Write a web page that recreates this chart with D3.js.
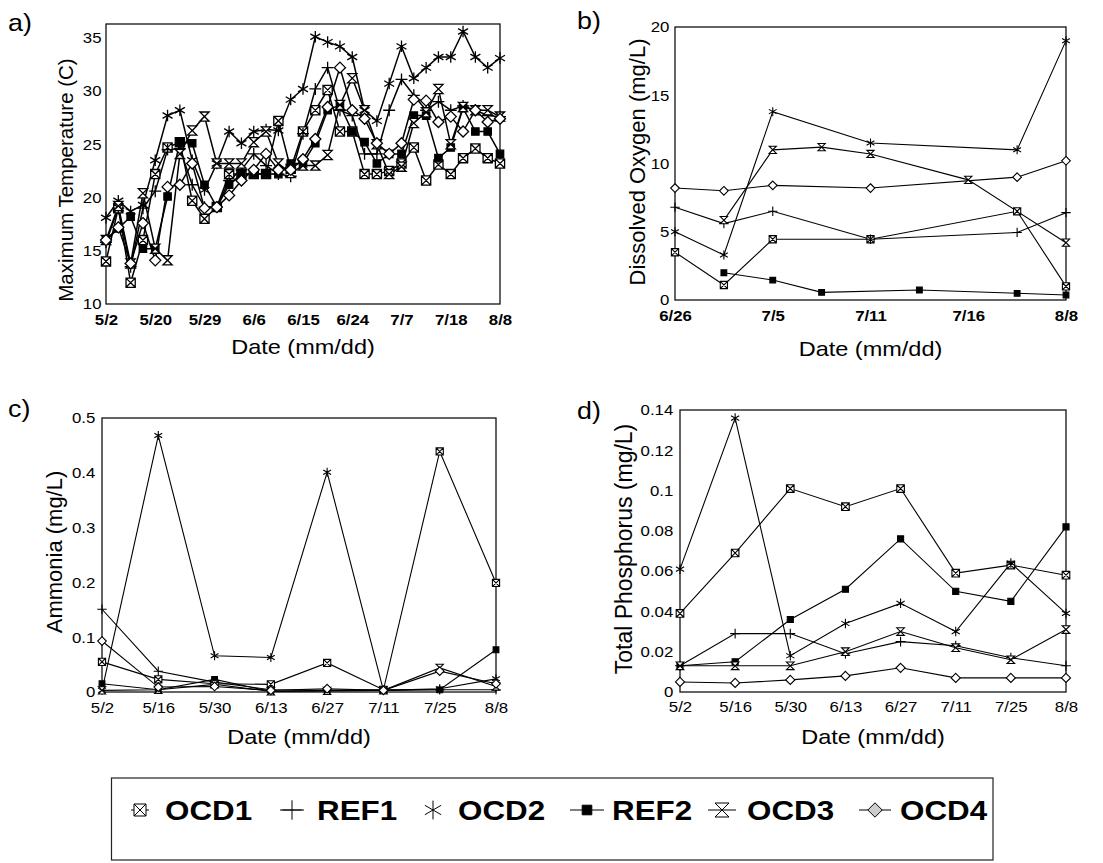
<!DOCTYPE html>
<html>
<head>
<meta charset="utf-8">
<script src="https://cdn.jsdelivr.net/npm/d3@7"></script>
<style>
  body { margin: 0; background: #fff; }
  svg { display: block; }
</style>
</head>
<body>
<svg id="fig" width="1103" height="863"></svg>
<script>
// ---- data ----
var seriesNames = ['OCD1', 'REF1', 'OCD2', 'REF2', 'OCD3', 'OCD4'];

// a) maximum temperature (C), 33 sampling dates
var aTickLabels = ['5/2', '5/20', '5/29', '6/6', '6/15', '6/24', '7/7', '7/18', '8/8'];
var aOCD1 = [14, 19, 12, 16, 22.2, 24.7, 25.2, 19.7, 18, 19.1, 22.2, 22.2, 22.2, 22.2, 27.2, 22.7, 26.2,
             28.2, 30.1, 26.2, 26.2, 22.2, 22.2, 22.5, 23.2, 24.7, 21.6, 23.1, 22.2, 23.7, 24.6, 23.7, 23.2];
var aREF1 = [15.8, 19, 13.5, 19, 20.6, 24.5, 24.6, 21.2, 19.1, 19.1, 21.6, 22.6, 24.1, 23, 22.2, 22, 26,
             30.2, 32.2, 28.2, 27.7, 24.1, 24.1, 28.2, 31.1, 29.6, 28.2, 29, 28.2, 28.6, 28.2, 27.7, 27.6];
var aOCD2 = [18.1, 19.7, 18.7, 19.3, 23.5, 27.7, 28.2, 23.5, 20.7, 23.2, 26.2, 25.1, 26.2, 26.4, 26.3, 29.2, 30.2,
             35.1, 34.6, 34.2, 33.2, 28.2, 27.2, 30.7, 34.2, 31.2, 32.2, 33.2, 33.2, 35.6, 33.2, 32.2, 33.1];
var aREF2 = [16, 17.1, 18.2, 15.2, 15.2, 20.1, 25.2, 25.1, 21.2, 19.1, 21.2, 22.2, 22.2, 22.2, 22.2, 23.2, 23.2,
             25.1, 28.2, 28.7, 26.2, 25.2, 23.2, 24.1, 24.1, 27.7, 27.7, 23.7, 24.7, 28.4, 26.2, 26.2, 24.1];
var aOCD3 = [16, 19.2, 13.8, 20.4, 15.2, 14.1, 24.1, 26.3, 27.6, 23.2, 23.2, 23.2, 25.2, 26.2, 23.2, 22.3, 23,
             23, 24, 28.7, 31.2, 28.2, 25, 22.2, 22.9, 27, 28, 30.2, 25, 28.5, 28.2, 28.2, 27.6];
var aOCD4 = [16, 17.2, 13.8, 17.6, 14.1, 21, 21.2, 23.2, 19, 19.1, 20.2, 21.6, 22.6, 24.1, 22.6, 22.6, 23.6,
             25.5, 28.5, 32.2, 28.2, 27.4, 25.1, 24.1, 25.1, 29.2, 29.1, 27.1, 27.6, 26.2, 28.2, 27.1, 27.4];

// b) dissolved oxygen (mg/L), 9 slots, null = not sampled
var bTickLabels = ['6/26', '7/5', '7/11', '7/16', '8/8'];
var bOCD1 = [3.5, 1.1, 4.45, null, 4.45, null, null, 6.5, 1.0];
var bREF1 = [6.8, 5.6, 6.5, null, 4.45, null, null, 4.95, 6.4];
var bOCD2 = [5.0, 3.3, 13.8, null, 11.5, null, null, 11.0, 19.0];
var bREF2 = [null, 2.0, 1.46, 0.56, null, 0.73, null, 0.49, 0.37];
var bOCD3 = [null, 5.85, 11.0, 11.2, 10.7, null, 8.8, null, 4.2];
var bOCD4 = [8.2, 8.0, 8.4, null, 8.2, null, null, 9.0, 10.2];

// c) ammonia (mg/L)
var cdTickLabels = ['5/2', '5/16', '5/30', '6/13', '6/27', '7/11', '7/25', '8/8'];
var cOCD1 = [0.055, 0.023, 0.015, 0.014, 0.053, 0.004, 0.439, 0.199];
var cREF1 = [0.151, 0.038, 0.018, 0.004, 0.003, 0.003, 0.004, 0.004];
var cOCD2 = [0.003, 0.468, 0.066, 0.063, 0.401, 0.003, 0.006, 0.024];
var cREF2 = [0.015, 0.004, 0.023, 0.001, 0.003, 0.004, 0.004, 0.077];
var cOCD3 = [0.003, 0.004, 0.014, 0.001, 0.002, 0.003, 0.044, 0.010];
var cOCD4 = [0.093, 0.009, 0.010, 0.003, 0.006, 0.003, 0.038, 0.015];

// d) total phosphorus (mg/L)
var dOCD1 = [0.039, 0.069, 0.101, 0.092, 0.101, 0.059, 0.063, 0.058];
var dREF1 = [0.013, 0.029, 0.029, 0.019, 0.025, 0.023, 0.017, 0.013];
var dOCD2 = [0.061, 0.136, 0.018, 0.034, 0.044, 0.030, 0.064, 0.039];
var dREF2 = [0.013, 0.015, 0.036, 0.051, 0.076, 0.050, 0.045, 0.082];
var dOCD3 = [0.013, 0.013, 0.013, 0.020, 0.030, 0.022, 0.016, 0.031];
var dOCD4 = [0.005, 0.0045, 0.006, 0.008, 0.012, 0.007, 0.007, 0.007];

var aYTicks = [10, 15, 20, 25, 30, 35];
var bYTicks = [0, 5, 10, 15, 20];
var cYTicks = [0, 0.1, 0.2, 0.3, 0.4, 0.5];
var dYTicks = [0, 0.02, 0.04, 0.06, 0.08, 0.1, 0.12, 0.14];

// ---- drawing ----
var svg = d3.select('#fig');
var FONT = "'Liberation Sans', Arial, Helvetica, sans-serif";
var STRETCH = 'scale(1.12,1)';   // the scan is a bit wide, text looks stretched
var markerTypes = ['boxX', 'plus', 'star', 'square', 'hourglass', 'diamond'];

function markerPath(type, h) {
    if (type == 'boxX') {
        return 'M' + (-h) + ',' + (-h) + 'H' + h + 'V' + h + 'H' + (-h) + 'Z' +
               'M' + (-h) + ',' + (-h) + 'L' + h + ',' + h + 'M' + h + ',' + (-h) + 'L' + (-h) + ',' + h;
    }
    if (type == 'plus') {
        var r = h * 1.3;
        return 'M' + (-r) + ',0H' + r + 'M0,' + (-r) + 'V' + r;
    }
    if (type == 'star') {
        var s = h * 1.25, p = '';
        [90, 30, 150].forEach(function(a) {
            var dx = Math.cos(a * Math.PI / 180) * s, dy = Math.sin(a * Math.PI / 180) * s;
            p += 'M' + (-dx) + ',' + (-dy) + 'L' + dx + ',' + dy;
        });
        return p;
    }
    if (type == 'square') {
        var k = h * 0.8;
        return 'M' + (-k) + ',' + (-k) + 'H' + k + 'V' + k + 'H' + (-k) + 'Z';
    }
    if (type == 'hourglass') {
        return 'M' + (-h) + ',' + (-h) + 'H' + h + 'L' + (-h) + ',' + h + 'H' + h + 'Z';
    }
    // diamond
    var q = h * 1.2;
    return 'M0,' + (-q) + 'L' + q + ',0L0,' + q + 'L' + (-q) + ',0Z';
}

function markerFill(type) {
    if (type == 'square') return '#000';
    if (type == 'plus' || type == 'star') return 'none';
    return '#fff';
}

function drawPanel(p) {
    var g = svg.append('g');
    var x = d3.scaleLinear().domain([0, p.n - 1]).range([p.left, p.right]);
    var y = d3.scaleLinear().domain(p.ydom).range([p.bottom, p.top]);

    // axes
    var yAxis = d3.axisLeft(y)
        .tickValues(p.yticks)
        .tickSize(0)
        .tickPadding(p.ypad)
        .tickFormat(function(d) { return String(d); });
    g.append('g').attr('transform', 'translate(' + p.left + ',0)')
        .call(yAxis)
        .call(function(a) {
            a.select('.domain').remove();
            a.selectAll('text')
                .style('font-family', FONT)
                .style('font-size', '15px')
                .style('fill', '#000')
                .attr('transform', STRETCH);
        });

    var xAxis = d3.axisBottom(x)
        .tickValues(p.xticks)
        .tickSize(0)
        .tickPadding(p.xpad)
        .tickFormat(function(d, i) { return p.xlabels[i]; });
    g.append('g').attr('transform', 'translate(0,' + p.bottom + ')')
        .call(xAxis)
        .call(function(a) {
            a.select('.domain').remove();
            a.selectAll('text')
                .style('font-family', FONT)
                .style('font-size', '15px')
                .style('font-weight', p.xbold ? 700 : 400)
                .style('fill', '#000')
                .attr('transform', STRETCH);
        });

    // frame
    g.append('rect')
        .attr('x', p.left).attr('y', p.top)
        .attr('width', p.right - p.left).attr('height', p.bottom - p.top)
        .attr('fill', 'none').attr('stroke', '#111').attr('stroke-width', 1.3);

    // lines, connecting across unsampled dates
    var line = d3.line()
        .x(function(d) { return x(d.i); })
        .y(function(d) { return y(d.v); });
    var pts = p.series.map(function(vals) {
        return vals.map(function(v, i) { return {i: i, v: v}; })
                   .filter(function(d) { return d.v != null; });
    });
    pts.forEach(function(s) {
        g.append('path').datum(s)
            .attr('d', line)
            .attr('fill', 'none')
            .attr('stroke', '#000')
            .attr('stroke-width', p.lw);
    });
    // markers
    pts.forEach(function(s, k) {
        var type = markerTypes[k];
        g.selectAll('path.m' + k)
            .data(s)
            .enter()
            .append('path').attr('class', 'm' + k)
            .attr('transform', function(d) { return 'translate(' + x(d.i) + ',' + y(d.v) + ')'; })
            .attr('d', markerPath(type, p.ms))
            .attr('fill', markerFill(type))
            .attr('stroke', '#000')
            .attr('stroke-width', p.mw);
    });

    // titles
    g.append('text')
        .attr('transform', 'translate(' + ((p.left + p.right) / 2) + ',' + p.xtitleY + ') ' + STRETCH)
        .attr('text-anchor', 'middle')
        .style('font-family', FONT).style('font-size', '21px')
        .text('Date (mm/dd)');
    g.append('text')
        .attr('transform', 'translate(' + p.ytitleX + ',' + p.ytitleY + ') rotate(-90)')
        .attr('text-anchor', 'middle')
        .style('font-family', FONT).style('font-size', p.ytitleSize + 'px')
        .text(p.ytitle);
    g.append('text')
        .attr('transform', 'translate(' + p.lx + ',' + p.ly + ') ' + STRETCH)
        .style('font-family', FONT).style('font-size', '24px')
        .text(p.label);
}

drawPanel({
    label: 'a)', lx: 8, ly: 31,
    left: 106, right: 500, top: 24, bottom: 304,
    n: aOCD1.length, ydom: [10, 36.3], yticks: aYTicks,
    xticks: d3.range(0, aOCD1.length, 4), xlabels: aTickLabels, xbold: true,
    ypad: 4, xpad: 10, ms: 4.6, lw: 1.5, mw: 1.3,
    series: [aOCD1, aREF1, aOCD2, aREF2, aOCD3, aOCD4],
    ytitle: 'Maximum Temperature (C)', ytitleX: 73, ytitleY: 180, ytitleSize: 20.5,
    xtitleY: 354
});
drawPanel({
    label: 'b)', lx: 577, ly: 29,
    left: 675, right: 1066, top: 27, bottom: 300,
    n: bOCD1.length, ydom: [0, 20], yticks: bYTicks,
    xticks: d3.range(0, bOCD1.length, 2), xlabels: bTickLabels, xbold: true,
    ypad: 5, xpad: 10, ms: 3.6, lw: 1.1, mw: 1.1,
    series: [bOCD1, bREF1, bOCD2, bREF2, bOCD3, bOCD4],
    ytitle: 'Dissolved Oxygen (mg/L)', ytitleX: 645, ytitleY: 162, ytitleSize: 22,
    xtitleY: 356
});
drawPanel({
    label: 'c)', lx: 8, ly: 417,
    left: 102, right: 496, top: 418, bottom: 692,
    n: cOCD1.length, ydom: [0, 0.5], yticks: cYTicks,
    xticks: d3.range(cOCD1.length), xlabels: cdTickLabels, xbold: false,
    ypad: 6, xpad: 10, ms: 3.6, lw: 1.1, mw: 1.1,
    series: [cOCD1, cREF1, cOCD2, cREF2, cOCD3, cOCD4],
    ytitle: 'Ammonia (mg/L)', ytitleX: 62, ytitleY: 552, ytitleSize: 22,
    xtitleY: 744
});
drawPanel({
    label: 'd)', lx: 577, ly: 419,
    left: 680, right: 1066, top: 410, bottom: 692,
    n: dOCD1.length, ydom: [0, 0.14], yticks: dYTicks,
    xticks: d3.range(dOCD1.length), xlabels: cdTickLabels, xbold: false,
    ypad: 6, xpad: 9, ms: 3.8, lw: 1.1, mw: 1.1,
    series: [dOCD1, dREF1, dOCD2, dREF2, dOCD3, dOCD4],
    ytitle: 'Total Phosphorus (mg/L)', ytitleX: 632, ytitleY: 549, ytitleSize: 23,
    xtitleY: 744
});

// ---- legend ----
var legendX = [140, 292, 433, 587, 722, 875];
var legendLine = [9, 12, 0, 17, 14, 16];
var legend = svg.append('g');
legend.append('rect')
    .attr('x', 111.5).attr('y', 778).attr('width', 881.5).attr('height', 82)
    .attr('fill', 'none').attr('stroke', '#222').attr('stroke-width', 1.2);
seriesNames.forEach(function(name, k) {
    var cx = legendX[k], cy = 810, type = markerTypes[k];
    if (legendLine[k] > 0) {
        legend.append('line')
            .attr('x1', cx - legendLine[k]).attr('x2', cx + legendLine[k])
            .attr('y1', cy).attr('y2', cy)
            .attr('stroke', '#000').attr('stroke-width', 1);
    }
    var h = {boxX: 6, plus: 7.5, star: 7.5, square: 6, hourglass: 7, diamond: 6}[type];
    legend.append('path')
        .attr('transform', 'translate(' + cx + ',' + cy + ')')
        .attr('d', markerPath(type, h))
        .attr('fill', type == 'diamond' ? '#ccc' : markerFill(type))
        .attr('stroke', '#000').attr('stroke-width', 1);
    legend.append('text')
        .attr('transform', 'translate(' + (cx + 25) + ',820) ' + STRETCH)
        .style('font-family', FONT).style('font-size', '28px').style('font-weight', 700)
        .text(name);
});
</script>
</body>
</html>
